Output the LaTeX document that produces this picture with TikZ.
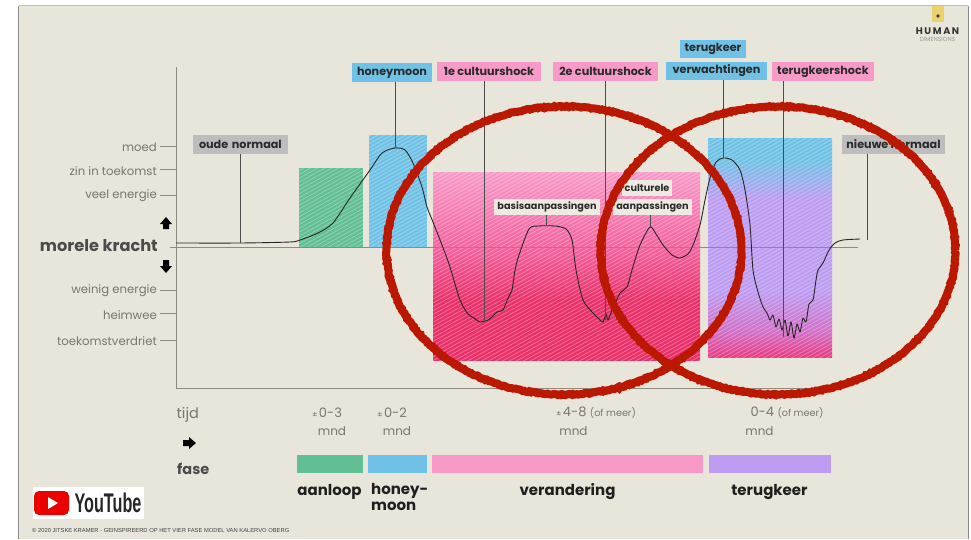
\documentclass[tikz,border=0pt]{standalone}
\usepackage{fontspec}
\setmainfont{Poppins}
\newfontfamily\liberation{Liberation Sans}
\usetikzlibrary{decorations.pathmorphing}
\definecolor{paper}{HTML}{E8E6DA}
\definecolor{framec}{HTML}{8A8A8A}
\definecolor{axisc}{HTML}{8E8C80}
\definecolor{softtxt}{HTML}{77776F}
\definecolor{darktxt}{HTML}{2A2A2A}
\definecolor{greenc}{HTML}{62BF94}
\definecolor{bluec}{HTML}{6FC2E6}
\definecolor{pinkc}{HTML}{F79AC8}
\definecolor{purplec}{HTML}{BD9CF2}
\definecolor{grayl}{HTML}{BDBDBD}
\definecolor{redc}{HTML}{BA1800}
\definecolor{pinkmid}{HTML}{F5609C}
\definecolor{pinkdeep}{HTML}{EA3069}
\definecolor{pinkend}{HTML}{E83C82}
\definecolor{pinkmix}{HTML}{D070C8}
\pgfdeclareverticalshading{pinkblock}{100bp}{color(0bp)=(pinkdeep); color(25bp)=(pinkdeep); color(41bp)=(pinkdeep); color(54bp)=(pinkmid); color(75bp)=(pinkc); color(100bp)=(pinkc)}
\pgfdeclareverticalshading{purpleblock}{100bp}{color(0bp)=(pinkend); color(25bp)=(pinkend); color(31bp)=(pinkmix); color(40bp)=(purplec); color(61bp)=(purplec); color(70bp)=(bluec); color(75bp)=(bluec); color(100bp)=(bluec)}
\newcommand{\hatchbox}[4]{%
  \begin{scope}
    \clip (#1,#2) rectangle (#3,#4);
    \foreach \i in {0,7,...,840} {
      \draw[white,opacity=.3,line width=.8pt] (#1-430+\i,#4+10) -- ++(800,-440);
    }
  \end{scope}}
\tikzset{
  x=1pt,y=-1pt,
  lbl/.style={font=\bfseries\fontsize{11.2}{12}\selectfont,text=darktxt,inner sep=0pt,minimum height=18.5pt,anchor=center},
  tag/.style={lbl,minimum height=15.5pt,fill=paper!80!white,font=\bfseries\fontsize{9.7}{11}\selectfont},
  soft/.style={font=\fontsize{11.7}{13}\selectfont,text=softtxt,inner sep=0pt,anchor=east},
  tickl/.style={axisc,line width=.7pt},
  leader/.style={draw=black!70,line width=.8pt},
  duur/.style={font=\fontsize{12}{14}\selectfont,text=softtxt,inner sep=0pt},
  fasel/.style={font=\bfseries\fontsize{15}{17}\selectfont,text=black!88,inner sep=0pt},
  ring/.style={draw=redc,line width=8pt,decorate,decoration={random steps,segment length=1.6pt,amplitude=.6pt}},
}
\begin{document}
\begin{tikzpicture}
\useasboundingbox (0,0) rectangle (971,539);
\fill[white] (0,0) rectangle (971,539);
\fill[paper] (18.5,5.5) rectangle (968,539);
\draw[framec,line width=.7pt] (18.5,539) -- (18.5,5.5);
\draw[black!25,line width=.7pt] (18.5,5.5) -- (968,5.5);
\draw[framec,line width=.7pt] (968,5.5) -- (968,539);

% colour blocks
\fill[greenc] (299,168) rectangle (363,247);
\hatchbox{299}{168}{363}{247}
\fill[bluec] (369,135) rectangle (427,247);
\hatchbox{369}{135}{427}{247}
\shade[shading=pinkblock] (433,172) rectangle (700,360);
\hatchbox{433}{172}{700}{360}
\shade[shading=purpleblock] (708,138) rectangle (832,357);
\hatchbox{708}{138}{832}{357}

% axes
\draw[axisc,line width=.8pt] (176,67) -- (176,388) -- (830,388);
\draw[axisc,line width=.7pt] (170,247) -- (858,247);
\foreach \yy in {146,169,195,290,313,340} \draw[tickl] (160,\yy) -- (176,\yy);

% side labels
\node[soft] (l1) at (157,147) {moed};
\node[soft] (l2) at (157,171) {zin in toekomst};
\node[soft] (l3) at (157,196) {veel energie};
\node[soft] (l4) at (157,291) {weinig energie};
\node[soft] (l5) at (157,315) {heimwee};
\node[soft] (l6) at (157,341) {toekomstverdriet};
\node[font=\bfseries\fontsize{16.2}{18}\selectfont,text=darktxt!85,inner sep=0pt,anchor=east] (mk) at (158,246) {morele kracht};

% arrows
\fill[black] (166,217) -- (172,224) -- (169,224) -- (169,229) -- (163,229) -- (163,224) -- (160,224) -- cycle;
\fill[black] (166,273) -- (172,266) -- (169,266) -- (169,260) -- (163,260) -- (163,266) -- (160,266) -- cycle;
\fill[black] (196,443) -- (189,437) -- (189,440) -- (183,440) -- (183,446) -- (189,446) -- (189,449) -- cycle;

% curve
\draw[black!85,line width=.9pt,line join=round] plot[smooth,tension=.45] coordinates {
(176,243)(240,243)(290,242)(300,240)(318,233)(333,223)(350,198)(370,170)(382,153)(395,148)(405,150)(413,163)(422,187)(427,207)(433,222)(442,245)(450,267)(460,300)(468,314)(474,318)(480,322)(488,320)(493,316)(497,312)(503,310)(508,298)(512,290)(515,270)(519,255)(529,229)(538,226)(555,226)(566,229)(572,240)(576,270)(583,300)(593,313)(598,318)(603,322)(606,314)(608,320)(613,308)(620,293)(627,287)(632,270)(640,245)(650,227)(656,234)(663,245)(672,255)(680,258)(688,254)(693,245)(700,225)(705,200)(710,178)(716,162)(723,158)(732,160)(740,170)(745,190)(750,225)(753,270)(758,292)(763,307)(767,313)(770,320)(773,315)(776,327)(779,319)(782,330)(785,320)(788,336)(791,322)(794,338)(797,324)(800,332)(803,318)(806,322)(809,304)(813,300)(816,280)(818,270)(823,263)(829,250)(835,243)(843,240)(860,239)};

\coordinate (oudeEnd) at (240,243);
\coordinate (honeyEnd) at (395,148);
\coordinate (eersteEnd) at (484,322);
\coordinate (basisEnd) at (546,226);
\coordinate (tweedeEnd) at (605,320);
\coordinate (cultEnd) at (650,227);
\coordinate (verwEnd) at (723,158);
\coordinate (terugEnd) at (783,337);
\coordinate (nieuwEnd) at (867,240);

% labels
\node[lbl,fill=grayl,minimum width=95pt,text width=83pt,align=left] (oude) at (240.5,144.5) {oude normaal};
\node[lbl,fill=bluec,minimum width=80pt] (honey) at (392,72.5) {honeymoon};
\node[lbl,fill=pinkc,minimum width=104pt] (eerste) at (489,71.5) {1e cultuurshock};
\node[lbl,fill=pinkc,minimum width=105pt] (tweede) at (605.5,71.5) {2e cultuurshock};
\node[lbl,fill=bluec,minimum width=66pt] (terugk) at (713,49) {terugkeer};
\node[lbl,fill=bluec,minimum width=101pt] (verw) at (716.5,71) {verwachtingen};
\node[lbl,fill=pinkc,minimum width=102pt] (shock) at (823,71.5) {terugkeershock};
\node[lbl,fill=grayl,minimum width=103pt] (nieuw) at (893.5,144.5) {nieuwe normaal};
\node[tag,minimum width=106pt] (basis) at (547,207) {basisaanpassingen};
\node[tag,minimum width=50pt] (cult) at (647,188) {culturele};
\node[tag,minimum width=79pt] (cult2) at (652.5,207) {aanpassingen};

% leaders
\draw[leader] (oude.south -| oudeEnd) -- (oudeEnd);
\draw[leader] (honey.south -| honeyEnd) -- (honeyEnd);
\draw[leader] (eerste.south -| eersteEnd) -- (eersteEnd);
\draw[leader] (basis.south -| basisEnd) -- (basisEnd);
\draw[leader] (tweede.south -| tweedeEnd) -- (tweedeEnd);
\draw[leader] (cult2.south -| cultEnd) -- (cultEnd);
\draw[leader] (verw.south -| verwEnd) -- (verwEnd);
\draw[leader] (shock.south -| terugEnd) -- (terugEnd);
\draw[leader] (nieuw.south -| nieuwEnd) -- (nieuwEnd);

% time row
\node[font=\fontsize{14.5}{16}\selectfont,text=softtxt,inner sep=0pt,anchor=west] (tijd) at (176.5,415) {tijd};
\node[font=\bfseries\fontsize{14.5}{16}\selectfont,text=darktxt!85,inner sep=0pt,anchor=west] (fase) at (177,469) {fase};
\node[duur] (d1) at (327,413) {\fontsize{8}{9}\selectfont ±\,\fontsize{13}{14}\selectfont 0-3};
\node[duur] (m1) at (332,431) {mnd};
\node[duur] (d2) at (392,413) {\fontsize{8}{9}\selectfont ±\,\fontsize{13}{14}\selectfont 0-2};
\node[duur] (m2) at (397,431) {mnd};
\node[duur] (d3) at (596,413) {\fontsize{8}{9}\selectfont ±\,\fontsize{13}{14}\selectfont 4-8 \fontsize{9.6}{10}\selectfont (of meer)};
\node[duur] (m3) at (573.5,431) {mnd};
\node[duur] (d4) at (787,413) {\fontsize{13}{14}\selectfont 0-4 \fontsize{9.6}{10}\selectfont (of meer)};
\node[duur] (m4) at (759.5,431) {mnd};

% phase bars
\fill[greenc] (297,455) rectangle (363,473);
\fill[bluec] (368,455) rectangle (427,473);
\fill[pinkc] (432,455) rectangle (703,473);
\fill[purplec] (709,455) rectangle (831,473);
\node[fasel] (f1) at (329.5,492) {aanloop};
\node[fasel,align=left,anchor=north west,font=\bfseries\fontsize{15}{16}\selectfont] (f2) at (371,483) {honey-\\moon};
\node[fasel] (f3) at (567.5,492) {verandering};
\node[fasel] (f4) at (769.5,492) {terugkeer};

% youtube
\fill[white] (33,487) rectangle (144,519);
\fill[red!92!black,rounded corners=5pt] (34,491) rectangle (69,515);
\fill[white] (48,497) -- (58,503) -- (48,509) -- cycle;
\node[font=\liberation\bfseries\fontsize{27}{28}\selectfont,text=black!85,inner sep=0pt,xscale=.6,anchor=center] (yt) at (108,503) {YouTube};

% copyright
\node[font=\liberation\fontsize{5.8}{7}\selectfont,text=black!75,inner sep=0pt,anchor=west] (copy) at (32,530) {© 2020 JITSKE KRAMER - GEINSPIREERD OP HET VIER FASE MODEL VAN KALERVO OBERG};

% brand
\fill[yellow!50!brown!70!white] (932,6) rectangle (944,22);
\fill[black!75] (938,16) circle (1.8pt);
\node[font=\bfseries\fontsize{9.6}{11}\selectfont,text=black!80,inner sep=0pt] (human) at (937.5,31) {H\,U\,M\,A\,N};
\node[font=\fontsize{6}{7}\selectfont,text=black!40,inner sep=0pt] (dim) at (937.5,39) {DIMENSIONS};

% rings
\draw[ring] (564,250.5) ellipse [x radius=177.5,y radius=144];
\draw[ring] (778,250.5) ellipse [x radius=177.5,y radius=144];
\end{tikzpicture}
\end{document}
